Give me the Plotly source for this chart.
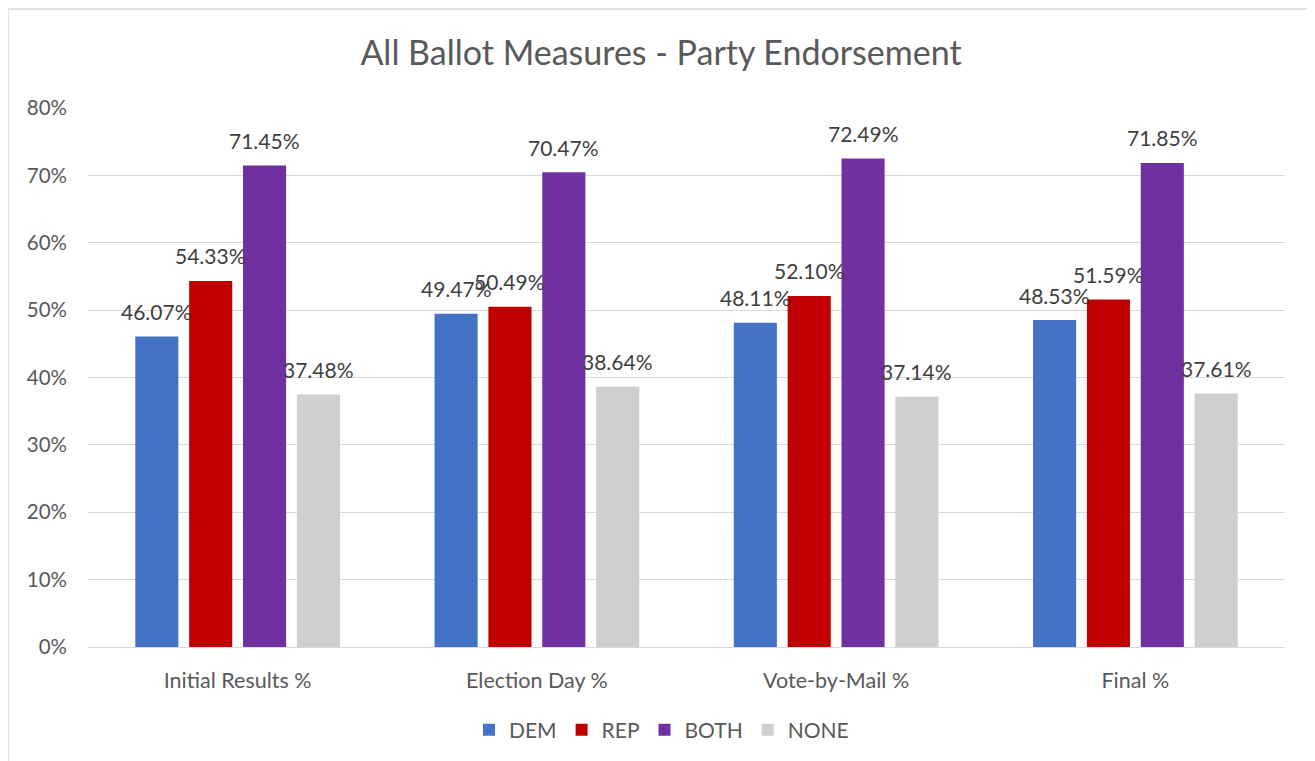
import plotly.graph_objects as go

# categories and series (fractions)
categories = ["Initial Results %", "Election Day %", "Vote-by-Mail %", "Final %"]
dem = [0.4607, 0.4947, 0.4811, 0.4853]
rep = [0.5433, 0.5049, 0.5210, 0.5159]
both = [0.7145, 0.7047, 0.7249, 0.7185]
none = [0.3748, 0.3864, 0.3714, 0.3761]

series = [("DEM", dem, "#4472C4"), ("REP", rep, "#C00000"),
          ("BOTH", both, "#7030A0"), ("NONE", none, "#D0CECE")]

font_family = "Lato, Open Sans, sans-serif"
grey_text = "#595959"

W, H = 1315, 761
ML, MR, MT, MB = 80, 38, 100, 122
BARGAP = 0.28
plot_w = W - ML - MR
plot_h = H - MT - MB
slot_px = plot_w / len(categories) * (1 - BARGAP) / len(series)

fig = go.Figure()
for i, (name, vals, col) in enumerate(series):
    fig.add_trace(go.Bar(
        x=categories, y=vals, name=name,
        marker=dict(color=col, line=dict(width=0)),
        hovertemplate="%{x}<br>" + name + ": %{y:.2%}<extra></extra>",
    ))
    # data labels above each bar
    for c, v in zip(categories, vals):
        fig.add_annotation(x=c, y=v, xref="x", yref="y",
                           text=f"{v*100:.2f}%", showarrow=False,
                           xshift=(i - 1.5) * slot_px, yshift=25,
                           yanchor="middle",
                           font=dict(size=21, color="#404040", family=font_family))

fig.update_layout(
    width=W, height=H,
    paper_bgcolor="white", plot_bgcolor="white",
    barmode="group", bargap=BARGAP, bargroupgap=0.2,
    margin=dict(l=ML, r=MR, t=MT, b=MB),
    font=dict(family=font_family, color=grey_text, size=20),
    title=dict(text="All Ballot Measures - Party Endorsement",
               x=(661 - 8) / W, xanchor="center", y=1 - (53 - 8) / H, yanchor="middle",
               font=dict(size=34, color=grey_text, family=font_family)),
    legend=dict(orientation="h", x=0.5 - 25 / plot_w, xanchor="center",
                y=-(730 - 647) / plot_h, yanchor="middle",
                font=dict(size=21, color=grey_text), itemwidth=30,
                traceorder="normal"),
    showlegend=True,
)
fig.update_yaxes(range=[0, 0.8], dtick=0.1, tickformat=".0%",
                 showgrid=True, gridcolor="#D9D9D9", gridwidth=1.3,
                 zeroline=False, showline=False, ticks="",
                 ticklabelstandoff=20,
                 tickfont=dict(size=20.5, color=grey_text))
fig.update_xaxes(showline=True, linecolor="#D9D9D9", linewidth=1.3,
                 ticks="", ticklabelstandoff=14,
                 tickfont=dict(size=21.5, color=grey_text))

# chart border
fig.add_shape(type="rect", xref="paper", yref="paper",
              x0=(0 - ML) / plot_w, x1=(1304 - ML) / plot_w,
              y0=-(H + 20 - (H - MB)) / plot_h, y1=(H - MB - 1) / plot_h,
              line=dict(color="#D9D9D9", width=1.5), layer="below")

fig.write_html("out.html")
